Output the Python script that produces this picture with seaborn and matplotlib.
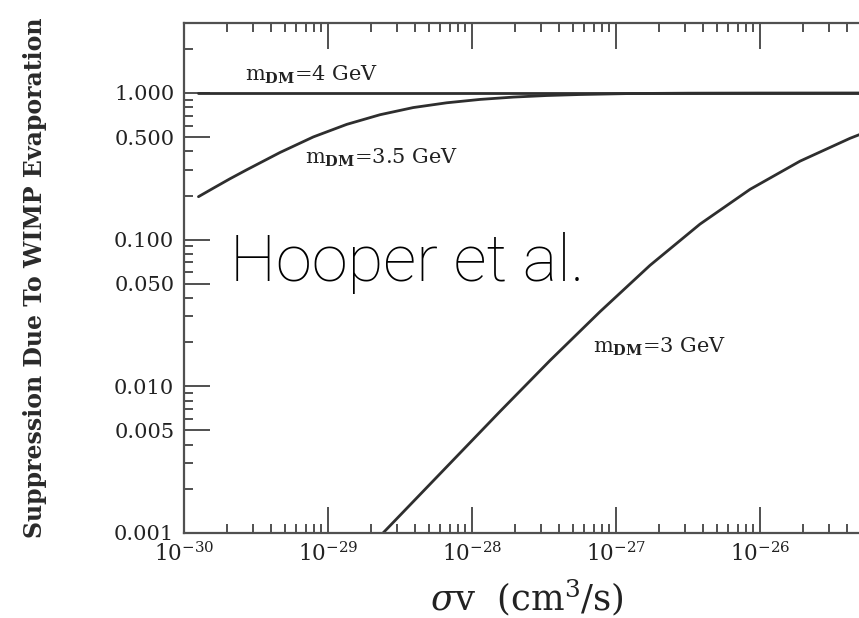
import matplotlib
matplotlib.use("Agg")
import matplotlib.pyplot as plt
from matplotlib.ticker import FixedLocator, LogLocator, NullFormatter
import numpy as np
import pandas as pd
import seaborn as sns

# Suppression of the annihilation rate by WIMP evaporation, vs. <sigma v>
sv_4gev = [1.26e-30, 1.0e-25]
supp_4gev = [1.0, 1.0]

sv_35gev = [1.26e-30, 1.60e-30, 2.08e-30, 2.72e-30, 4.64e-30, 7.91e-30, 1.35e-29,
            2.30e-29, 3.91e-29, 6.67e-29, 1.14e-28, 1.94e-28, 3.30e-28, 5.62e-28,
            1.25e-27, 3.2e-27, 1.0e-26, 1.0e-25]
supp_35gev = [0.1963, 0.2245, 0.2597, 0.2991, 0.3928, 0.5017, 0.611,
              0.711, 0.7955, 0.8572, 0.904, 0.9375, 0.9609, 0.9763,
              0.9913, 0.997, 0.999, 1.0]

sv_3gev = [2.41e-29, 6.00e-29, 1.563e-28, 3.48e-28, 7.75e-28, 1.722e-27,
           3.83e-27, 8.53e-27, 1.897e-26, 4.22e-26, 5.62e-26]
supp_3gev = [0.001, 0.002535, 0.00673, 0.0150, 0.0323, 0.0668,
             0.1276, 0.2203, 0.343, 0.491, 0.548]

mass_labels = [r"m$_{\mathbf{DM}}$=4 GeV", r"m$_{\mathbf{DM}}$=3.5 GeV", r"m$_{\mathbf{DM}}$=3 GeV"]

x_tick_vals = [1e-30, 1e-29, 1e-28, 1e-27, 1e-26, 1e-25]
x_tick_labels = [r"$10^{-30}$", r"$10^{-29}$", r"$10^{-28}$", r"$10^{-27}$", r"$10^{-26}$", ""]
y_tick_vals = [0.001, 0.005, 0.01, 0.05, 0.1, 0.5, 1.0]
y_tick_labels = ["0.001", "0.005", "0.010", "0.050", "0.100", "0.500", "1.000"]

df = pd.concat([
    pd.DataFrame({"sv": sv_4gev, "S": supp_4gev, "mass": "4"}),
    pd.DataFrame({"sv": sv_35gev, "S": supp_35gev, "mass": "3.5"}),
    pd.DataFrame({"sv": sv_3gev, "S": supp_3gev, "mass": "3"}),
], ignore_index=True)

sns.set_style("ticks")
plt.rcParams["font.family"] = ["DejaVu Serif"]
plt.rcParams["mathtext.fontset"] = "dejavuserif"

W, H = 859, 618
fig = plt.figure(figsize=(W / 100, H / 100), dpi=100)
ax_l, ax_r, ax_t, ax_b = 184, 904, 23, 533
ax = fig.add_axes([ax_l / W, (H - ax_b) / H, (ax_r - ax_l) / W, (ax_b - ax_t) / H])

line_col = "#2e2e2e"
sns.lineplot(data=df, x="sv", y="S", hue="mass", palette=[line_col] * 3,
             estimator=None, legend=False, linewidth=2.0, ax=ax)

ax.set_xscale("log")
ax.set_yscale("log")
ax.set_xlim(1e-30, 1e-25)
ax.set_ylim(1e-3, 3.0)

ax.xaxis.set_major_locator(FixedLocator(x_tick_vals))
ax.set_xticklabels(x_tick_labels)
ax.xaxis.set_minor_locator(LogLocator(base=10, subs=np.arange(2, 10)))
ax.xaxis.set_minor_formatter(NullFormatter())

y_minor = [m * d for d in (0.001, 0.01, 0.1, 1.0) for m in range(2, 10) if m != 5 and m * d <= 3.0]
ax.yaxis.set_major_locator(FixedLocator(y_tick_vals))
ax.set_yticklabels(y_tick_labels)
ax.yaxis.set_minor_locator(FixedLocator(y_minor))
ax.yaxis.set_minor_formatter(NullFormatter())

frame_col = "#505050"
for s in ax.spines.values():
    s.set_color(frame_col)
    s.set_linewidth(1.6)
ax.tick_params(which="both", direction="in", top=True, right=True,
               color=frame_col, width=1.4, labelcolor="#222222")
ax.tick_params(which="major", length=19, labelsize=15, pad=7)
ax.tick_params(which="minor", length=6.5)
ax.tick_params(axis="x", which="major", labelsize=15.5, pad=7)

ax.set_xlabel(r"$\sigma$v  (cm$^3$/s)", fontsize=25.5, color="#222222", va="center")
ax.xaxis.set_label_coords((527 - ax_l) / (ax_r - ax_l), (ax_b - 598) / (ax_b - ax_t))
ax.set_ylabel("Suppression Due To WIMP Evaporation", fontsize=17, fontweight="bold",
              color="#2a2a2a", va="center")
ax.yaxis.set_label_coords((35 - ax_l) / (ax_r - ax_l), 0.5)

txt_kw = dict(color="#222222", ha="left", va="center", fontsize=15)
ax.text(2.65e-30, 1.33, mass_labels[0], **txt_kw)
ax.text(6.9e-30, 0.36, mass_labels[1], **txt_kw)
ax.text(6.9e-28, 0.0185, mass_labels[2], **txt_kw)

fig.text(230 / W, 1 - 263 / H, "Hooper et al.", fontsize=47, color="black",
         family="Roboto", fontweight="light", ha="left", va="center")

fig.savefig("out.png", dpi=100)
